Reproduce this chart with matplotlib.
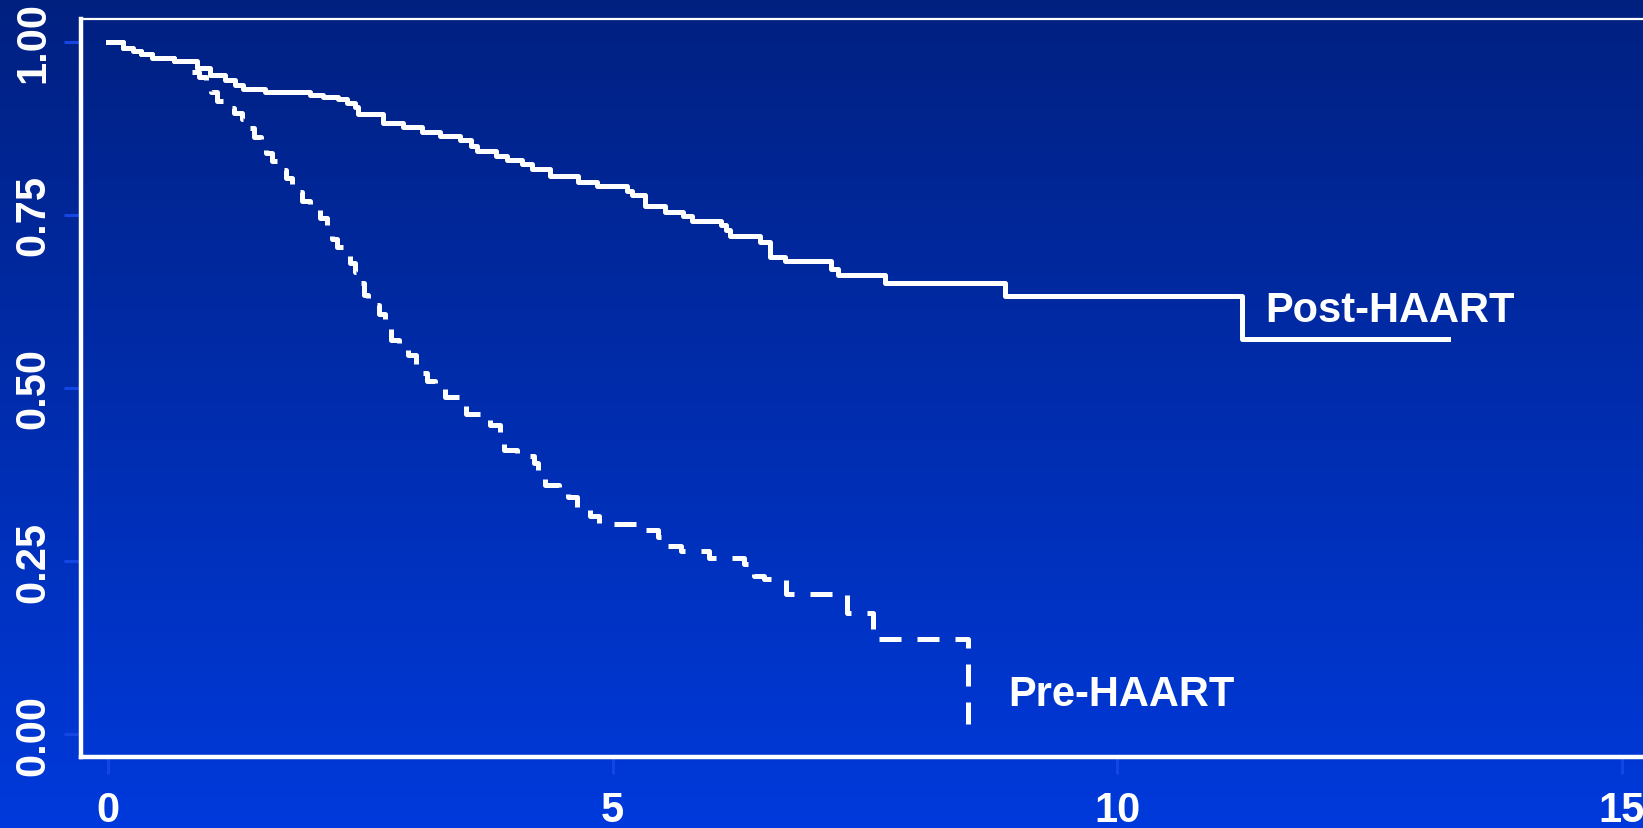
import numpy as np
import matplotlib
matplotlib.use('Agg')
import matplotlib.pyplot as plt

# Kaplan-Meier estimates (years since diagnosis, survival after each drop)
post_time = [0, 0.15, 0.25, 0.33, 0.44, 0.65, 0.88, 1.01, 1.16, 1.26, 1.34, 1.56, 2.00,
             2.13, 2.28, 2.37, 2.45, 2.48, 2.72, 2.92, 3.11, 3.29, 3.49, 3.60, 3.66,
             3.84, 3.95, 4.10, 4.20, 4.38, 4.66, 4.85, 5.14, 5.19, 5.32, 5.52, 5.70,
             5.79, 6.07, 6.12, 6.16, 6.46, 6.56, 6.71, 7.16, 7.23, 7.70, 8.89, 11.24,
             13.28]
post_surv = [1.0, 0.992, 0.987, 0.982, 0.977, 0.973, 0.962, 0.953, 0.945, 0.938, 0.932,
             0.928, 0.924, 0.921, 0.917, 0.912, 0.906, 0.896, 0.883, 0.877, 0.870,
             0.864, 0.858, 0.850, 0.842, 0.835, 0.829, 0.824, 0.816, 0.806, 0.797,
             0.792, 0.785, 0.779, 0.763, 0.755, 0.748, 0.742, 0.736, 0.728, 0.719,
             0.711, 0.689, 0.683, 0.672, 0.663, 0.652, 0.633, 0.571, 0.571]

pre_time = [0, 0.15, 0.25, 0.33, 0.44, 0.65, 0.80, 0.90, 0.97, 1.02, 1.08, 1.16, 1.25,
            1.33, 1.36, 1.45, 1.52, 1.57, 1.62, 1.68, 1.76, 1.82, 1.87, 1.92, 2.00,
            2.10, 2.17, 2.22, 2.27, 2.35, 2.40, 2.45, 2.50, 2.54, 2.58, 2.68, 2.74,
            2.80, 2.88, 2.97, 3.05, 3.10, 3.16, 3.24, 3.34, 3.50, 3.55, 3.70, 3.78,
            3.88, 3.92, 4.05, 4.22, 4.26, 4.33, 4.47, 4.56, 4.65, 4.78, 4.86, 5.30,
            5.45, 5.55, 5.68, 5.95, 6.30, 6.40, 6.50, 6.72, 7.32, 7.58, 8.52]
pre_surv = [1.0, 0.992, 0.987, 0.982, 0.977, 0.972, 0.957, 0.950, 0.940, 0.928, 0.915,
            0.905, 0.897, 0.889, 0.876, 0.862, 0.851, 0.840, 0.828, 0.815, 0.804,
            0.795, 0.783, 0.770, 0.758, 0.745, 0.728, 0.715, 0.704, 0.695, 0.680,
            0.668, 0.652, 0.635, 0.620, 0.607, 0.590, 0.570, 0.560, 0.548, 0.535,
            0.522, 0.510, 0.500, 0.487, 0.478, 0.462, 0.456, 0.447, 0.432, 0.410,
            0.402, 0.392, 0.375, 0.360, 0.353, 0.342, 0.326, 0.315, 0.304, 0.295,
            0.285, 0.272, 0.265, 0.254, 0.245, 0.228, 0.224, 0.202, 0.175, 0.138,
            0.0]

x_ticks = [0, 5, 10, 15]
y_ticks = [0.0, 0.25, 0.5, 0.75, 1.0]
y_labels = ['0.00', '0.25', '0.50', '0.75', '1.00']

plt.rcParams['font.family'] = ['Liberation Sans', 'DejaVu Sans']
plt.rcParams['font.weight'] = 'bold'

fig = plt.figure(figsize=(16.43, 8.29), dpi=100)

# slide-style vertical gradient behind everything
bg = fig.add_axes([0, 0, 1, 1], zorder=0)
top = np.array([0, 32, 128]) / 255
bottom = np.array([0, 58, 220]) / 255
frac = np.linspace(0, 1, 256)[:, None]
grad = top[None, :] * (1 - frac) + bottom[None, :] * frac
bg.imshow(grad[:, None, :], aspect='auto', extent=[0, 1, 0, 1])
bg.axis('off')

ax = fig.add_axes([81 / 1643, 71 / 829, 1 - 81 / 1643, 738 / 829], zorder=1)
ax.patch.set_alpha(0)

ax.plot(post_time, post_surv, drawstyle='steps-post', color='white', lw=3.6)
ax.plot(pre_time, pre_surv, drawstyle='steps-post', color='white', lw=3.6,
        dashes=(4.4, 3.2), dash_capstyle='butt')

ax.text(11.47, 0.597, 'Post-HAART', color='white', fontsize=30, fontweight='bold')
ax.text(8.92, 0.042, 'Pre-HAART', color='white', fontsize=30, fontweight='bold')

ax.set_xlim(-0.268, 15.21)
ax.set_ylim(-0.0332, 1.0332)

ax.set_xticks(x_ticks)
ax.set_yticks(y_ticks)
ax.set_yticklabels(y_labels, rotation=90, va='center')
ax.tick_params(axis='both', colors='#1446e6', length=12, width=2.2, direction='out',
               labelcolor='white', labelsize=30)
ax.tick_params(axis='y', pad=8)
ax.tick_params(axis='x', pad=12)

for side in ['left', 'bottom']:
    ax.spines[side].set_color('white')
    ax.spines[side].set_linewidth(3.2)
ax.spines['top'].set_color('white')
ax.spines['top'].set_linewidth(1.6)
ax.spines['right'].set_visible(False)

fig.savefig('out.png', dpi=100)
